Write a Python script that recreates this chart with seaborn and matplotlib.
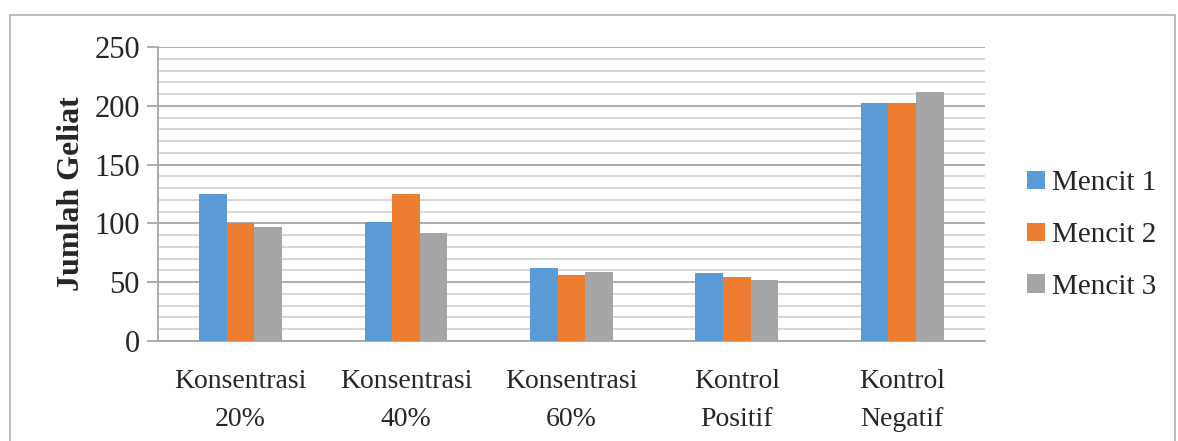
import seaborn as sns
import matplotlib.pyplot as plt
import pandas as pd
from matplotlib.patches import Rectangle
from matplotlib.ticker import MultipleLocator

categories = ['Konsentrasi\n20%', 'Konsentrasi\n40%', 'Konsentrasi\n60%', 'Kontrol\nPositif', 'Kontrol\nNegatif']
mencit1 = [125, 101, 62, 58, 202]
mencit2 = [100, 125, 56, 54, 202]
mencit3 = [97, 92, 59, 52, 212]
series = ['Mencit 1', 'Mencit 2', 'Mencit 3']
colors = ['#5B9BD5', '#ED7D31', '#A5A5A5']

# long format for seaborn
rows = []
for name, vals in zip(series, [mencit1, mencit2, mencit3]):
    for cat, v in zip(categories, vals):
        rows.append({'kategori': cat, 'mencit': name, 'geliat': v})
df = pd.DataFrame(rows)

sns.set_style('white')
plt.rcParams['font.family'] = ['Liberation Serif', 'DejaVu Serif']

fig = plt.figure(figsize=(11.78, 4.41), dpi=100)
ax = fig.add_axes([0.1341, 0.2268, 0.7020, 0.6666])

# outer chart frame
fig.patches.append(Rectangle((10/1178, -0.1), 1165/1178, 1.1 - 15/441, transform=fig.transFigure,
                             fill=False, edgecolor='#b0b0b0', linewidth=1.2))

sns.barplot(data=df, x='kategori', y='geliat', hue='mencit', palette=colors,
            width=0.5, gap=0, saturation=1, linewidth=0, ax=ax, zorder=3)

ax.set_ylim(0, 250)
ax.set_xlim(-0.5, 4.5)
ax.yaxis.set_major_locator(MultipleLocator(50))
ax.yaxis.set_minor_locator(MultipleLocator(10))
ax.grid(which='minor', axis='y', color='#d4d4d4', linewidth=1.3, zorder=0)
ax.grid(which='major', axis='y', color='#a6a6a6', linewidth=1.3, zorder=0)
ax.set_axisbelow(True)

for s in ['top', 'right']:
    ax.spines[s].set_visible(False)
ax.spines['left'].set_color('#a6a6a6')
ax.spines['bottom'].set_color('#a6a6a6')
ax.spines['left'].set_linewidth(1.3)
ax.spines['bottom'].set_linewidth(1.3)

ax.tick_params(axis='y', which='major', left=True, length=8, width=1.3, color='#a6a6a6',
               labelsize=22, pad=5)
ax.tick_params(axis='y', which='minor', left=False)
ax.tick_params(axis='x', bottom=False, labelsize=20, pad=17)
for lab in ax.get_xticklabels():
    lab.set_linespacing(1.65)

ax.set_xlabel('')
ax.set_ylabel('Jumlah Geliat', fontsize=23, fontweight='bold', labelpad=6)

ax.legend(loc='center left', bbox_to_anchor=(1.051, 0.36), frameon=False, fontsize=21,
          borderaxespad=0, borderpad=0,
          handlelength=0.6, handleheight=0.6, handletextpad=0.25, labelspacing=0.88)

fig.savefig('out.png', dpi=100)
